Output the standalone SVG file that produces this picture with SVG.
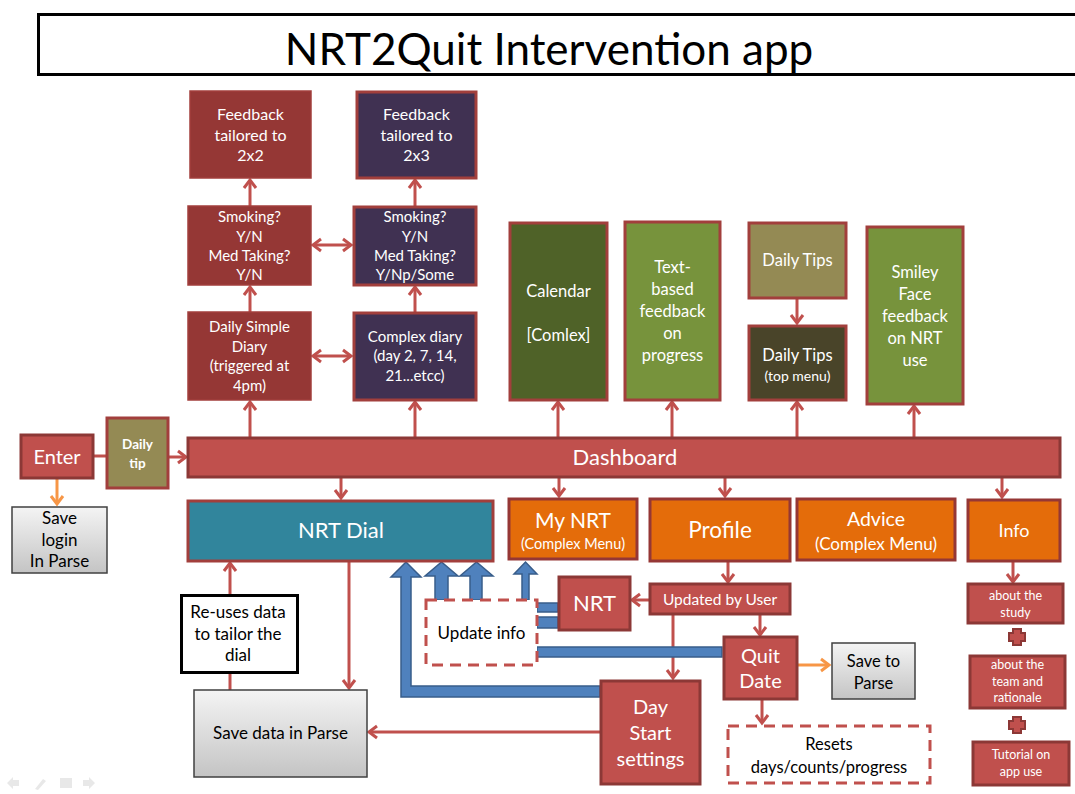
<svg xmlns="http://www.w3.org/2000/svg" width="1075" height="794" viewBox="0 0 1075 794">
  <style>
    text { font-family: Lato, "Open Sans", sans-serif; text-anchor: middle; fill: #ffffff; }
    .dk { fill: #000000; }
    .c { stroke: #c0504d; stroke-width: 3; fill: none; }
    .o { stroke: #f79646; stroke-width: 3; fill: none; }
    .red { fill: #c0504d; stroke: #8c3836; stroke-width: 3; }
    .maroon { fill: #953735; stroke: #a23f3c; stroke-width: 1.5; }
    .purple { fill: #403152; stroke: #a23f3c; stroke-width: 3; }
    .olive { fill: #4f6228; stroke: #a23f3c; stroke-width: 3; }
    .green { fill: #77933c; stroke: #a23f3c; stroke-width: 3; }
    .khaki { fill: #948a54; stroke: #a23f3c; stroke-width: 3; }
    .brown { fill: #494429; stroke: #a23f3c; stroke-width: 3; }
    .orange { fill: #e46c0a; stroke: #953735; stroke-width: 3; }
    .teal { fill: #31859c; stroke: #a23f3c; stroke-width: 3; }
    .gray { fill: url(#grayGrad); stroke: #404040; stroke-width: 1.5; }
    .dash { fill: #ffffff; stroke: #c0504d; stroke-width: 3; stroke-dasharray: 11 7; }
    .blue { fill: #4f81bd; stroke: #385d8a; stroke-width: 1.5; }
  </style>
  <defs>
    <linearGradient id="grayGrad" x1="0" y1="0" x2="0" y2="1">
      <stop offset="0" stop-color="#f4f4f4"/>
      <stop offset="1" stop-color="#c4c4c4"/>
    </linearGradient>
    <marker id="ar" markerUnits="userSpaceOnUse" markerWidth="14" markerHeight="16" viewBox="0 0 14 16" refX="10" refY="8" orient="auto-start-reverse">
      <path d="M2,2 L10,8 L2,14" fill="none" stroke="#c0504d" stroke-width="3"/>
    </marker>
    <marker id="ao" markerUnits="userSpaceOnUse" markerWidth="14" markerHeight="16" viewBox="0 0 14 16" refX="10" refY="8" orient="auto-start-reverse">
      <path d="M2,2 L10,8 L2,14" fill="none" stroke="#f79646" stroke-width="3"/>
    </marker>
  </defs>

  <rect width="1075" height="794" fill="#ffffff"/>

  <!-- title banner -->
  <g id="title">
    <rect x="38.5" y="14.5" width="1045" height="60" fill="#ffffff" stroke="#000000" stroke-width="3"/>
    <text class="dk" x="549" y="65" font-size="44">NRT2Quit Intervention app</text>
  </g>

  <!-- connectors -->
  <g id="connectors">
    <path class="c" d="M93,456 H106"/>
    <path class="c" d="M168,457 H186" marker-end="url(#ar)"/>
    <path class="c" d="M250,437 V402" marker-end="url(#ar)"/>
    <path class="c" d="M250,312 V287" marker-end="url(#ar)"/>
    <path class="c" d="M250,206 V180" marker-end="url(#ar)"/>
    <path class="c" d="M415,437 V402" marker-end="url(#ar)"/>
    <path class="c" d="M415,312 V287" marker-end="url(#ar)"/>
    <path class="c" d="M415,206 V180" marker-end="url(#ar)"/>
    <path class="c" d="M313,245 H351" marker-start="url(#ar)" marker-end="url(#ar)"/>
    <path class="c" d="M313,356 H351" marker-start="url(#ar)" marker-end="url(#ar)"/>
    <path class="c" d="M558,437 V402" marker-end="url(#ar)"/>
    <path class="c" d="M672,437 V402" marker-end="url(#ar)"/>
    <path class="c" d="M797,437 V402" marker-end="url(#ar)"/>
    <path class="c" d="M914,437 V406" marker-end="url(#ar)"/>
    <path class="c" d="M797,298 V323" marker-end="url(#ar)"/>
    <path class="c" d="M341,477 V498" marker-end="url(#ar)"/>
    <path class="c" d="M559,477 V496" marker-end="url(#ar)"/>
    <path class="c" d="M725,477 V496" marker-end="url(#ar)"/>
    <path class="c" d="M1002,477 V497" marker-end="url(#ar)"/>
    <path class="c" d="M728,561 V582" marker-end="url(#ar)"/>
    <path class="c" d="M649,600 H632" marker-end="url(#ar)"/>
    <path class="c" d="M673,614 V678" marker-end="url(#ar)"/>
    <path class="c" d="M760,614 V635" marker-end="url(#ar)"/>
    <path class="c" d="M762,699 V723" marker-end="url(#ar)"/>
    <path class="c" d="M600,732 H369" marker-end="url(#ar)"/>
    <path class="c" d="M349,561 V688" marker-end="url(#ar)"/>
    <path class="c" d="M230,690 V563" marker-end="url(#ar)"/>
    <path class="c" d="M1013,561 V582" marker-end="url(#ar)"/>
    <path class="o" d="M57,478 V504" marker-end="url(#ao)"/>
    <path class="o" d="M797,665 H829" marker-end="url(#ao)"/>

    <!-- block arrows feeding the dial and menus -->
    <path class="blue" d="M600,686 H411 V577 H421 L406,562 L391,577 H401 V697 H600 Z"/>
    <path class="blue" d="M435,600 V576 H425 L441.5,562 L458,576 H448 V600 Z"/>
    <path class="blue" d="M470,600 V576 H460 L476.5,562 L493,576 H482 V600 Z"/>
    <path class="blue" d="M522,600 V574 H514 L525.5,562 L537,574 H529 V600 Z"/>
    <rect class="blue" x="537" y="603" width="21" height="9"/>
    <rect class="blue" x="537" y="617" width="21" height="11"/>
    <rect class="blue" x="537" y="647" width="185" height="10"/>
  </g>

  <!-- diary branch -->
  <g id="feedback-2x2">
    <rect class="maroon" x="190" y="91" width="121" height="87"/>
    <text x="250.5" y="120" font-size="16">Feedback</text>
    <text x="250.5" y="141" font-size="16">tailored to</text>
    <text x="250.5" y="161" font-size="16">2x2</text>
  </g>
  <g id="feedback-2x3">
    <rect class="purple" x="357" y="92" width="119" height="86"/>
    <text x="416.5" y="120" font-size="16">Feedback</text>
    <text x="416.5" y="141" font-size="16">tailored to</text>
    <text x="416.5" y="161" font-size="16">2x3</text>
  </g>
  <g id="smoking-simple">
    <rect class="maroon" x="188" y="206" width="123" height="79"/>
    <text x="249.5" y="222" font-size="15">Smoking?</text>
    <text x="249.5" y="242" font-size="15">Y/N</text>
    <text x="249.5" y="261" font-size="15">Med Taking?</text>
    <text x="249.5" y="280" font-size="15">Y/N</text>
  </g>
  <g id="smoking-complex">
    <rect class="purple" x="354" y="207" width="122" height="78"/>
    <text x="415" y="222" font-size="15">Smoking?</text>
    <text x="415" y="242" font-size="15">Y/N</text>
    <text x="415" y="261" font-size="15">Med Taking?</text>
    <text x="415" y="280" font-size="15">Y/Np/Some</text>
  </g>
  <g id="daily-simple-diary">
    <rect class="maroon" x="188" y="312" width="123" height="88"/>
    <text x="249.5" y="332" font-size="15">Daily Simple</text>
    <text x="249.5" y="352" font-size="15">Diary</text>
    <text x="249.5" y="371" font-size="15">(triggered at</text>
    <text x="249.5" y="391" font-size="15">4pm)</text>
  </g>
  <g id="complex-diary">
    <rect class="purple" x="354" y="313" width="122" height="87"/>
    <text x="415" y="342" font-size="15">Complex diary</text>
    <text x="415" y="361" font-size="15">(day 2, 7, 14,</text>
    <text x="415" y="381" font-size="15">21...etcc)</text>
  </g>

  <!-- dashboard panels -->
  <g id="calendar">
    <rect class="olive" x="510" y="223" width="97" height="177"/>
    <text x="558.5" y="297" font-size="16.5">Calendar</text>
    <text x="558.5" y="341" font-size="16.5">[Comlex]</text>
  </g>
  <g id="text-feedback">
    <rect class="green" x="625" y="222" width="95" height="178"/>
    <text x="672.5" y="273" font-size="16.5">Text-</text>
    <text x="672.5" y="295" font-size="16.5">based</text>
    <text x="672.5" y="317" font-size="16.5">feedback</text>
    <text x="672.5" y="339" font-size="16.5">on</text>
    <text x="672.5" y="361" font-size="16.5">progress</text>
  </g>
  <g id="daily-tips">
    <rect class="khaki" x="749" y="223" width="97" height="75"/>
    <text x="797.5" y="266" font-size="16.5">Daily Tips</text>
  </g>
  <g id="daily-tips-menu">
    <rect class="brown" x="749" y="326" width="97" height="74"/>
    <text x="797.5" y="361" font-size="16.5">Daily Tips</text>
    <text x="797.5" y="381" font-size="14">(top menu)</text>
  </g>
  <g id="smiley-feedback">
    <rect class="green" x="867" y="227" width="96" height="177"/>
    <text x="915" y="278" font-size="16.5">Smiley</text>
    <text x="915" y="300" font-size="16.5">Face</text>
    <text x="915" y="322" font-size="16.5">feedback</text>
    <text x="915" y="344" font-size="16.5">on NRT</text>
    <text x="915" y="366" font-size="16.5">use</text>
  </g>

  <!-- entry row -->
  <g id="enter">
    <rect class="red" x="21" y="435" width="72" height="43"/>
    <text x="57" y="464" font-size="20">Enter</text>
  </g>
  <g id="daily-tip">
    <rect class="khaki" x="107" y="418" width="61" height="70"/>
    <text x="137.5" y="449" font-size="13.5" font-weight="bold">Daily</text>
    <text x="137.5" y="468" font-size="13.5" font-weight="bold">tip</text>
  </g>
  <g id="dashboard">
    <rect class="red" x="188" y="438" width="872" height="39"/>
    <text x="625" y="465" font-size="22">Dashboard</text>
  </g>
  <g id="save-login">
    <rect class="gray" x="12" y="507" width="95" height="66"/>
    <text class="dk" x="59.5" y="524" font-size="17">Save</text>
    <text class="dk" x="59.5" y="546" font-size="17">login</text>
    <text class="dk" x="59.5" y="567" font-size="17">In Parse</text>
  </g>

  <!-- main menu -->
  <g id="nrt-dial">
    <rect class="teal" x="188" y="501" width="305" height="60"/>
    <text x="341" y="538" font-size="22">NRT Dial</text>
  </g>
  <g id="my-nrt">
    <rect class="orange" x="509" y="499" width="128" height="60"/>
    <text x="573" y="528" font-size="21">My NRT</text>
    <text x="573" y="549" font-size="14.5">(Complex Menu)</text>
  </g>
  <g id="profile">
    <rect class="orange" x="650" y="499" width="140" height="62"/>
    <text x="720" y="538" font-size="22.5">Profile</text>
  </g>
  <g id="advice">
    <rect class="orange" x="797" y="499" width="158" height="61"/>
    <text x="876" y="526" font-size="19.5">Advice</text>
    <text x="876" y="550" font-size="17">(Complex Menu)</text>
  </g>
  <g id="info">
    <rect class="orange" x="968" y="500" width="92" height="61"/>
    <text x="1014" y="537" font-size="18">Info</text>
  </g>

  <!-- info pages -->
  <g id="about-study">
    <rect class="red" x="968" y="584" width="95" height="39"/>
    <text x="1015.5" y="600" font-size="12.5">about the</text>
    <text x="1015.5" y="617" font-size="12.5">study</text>
  </g>
  <g id="plus-1">
    <path d="M1013,629 H1021 V633 H1025 V641 H1021 V645 H1013 V641 H1009 V633 H1013 Z" fill="#c0504d" stroke="#8c3836" stroke-width="2"/>
  </g>
  <g id="about-team">
    <rect class="red" x="970" y="656" width="95" height="52"/>
    <text x="1017.5" y="669" font-size="12.5">about the</text>
    <text x="1017.5" y="686" font-size="12.5">team and</text>
    <text x="1017.5" y="702" font-size="12.5">rationale</text>
  </g>
  <g id="plus-2">
    <path d="M1013,717 H1021 V721 H1025 V729 H1021 V733 H1013 V729 H1009 V721 H1013 Z" fill="#c0504d" stroke="#8c3836" stroke-width="2"/>
  </g>
  <g id="tutorial">
    <rect class="red" x="973" y="742" width="96" height="43"/>
    <text x="1021" y="759" font-size="12.5">Tutorial on</text>
    <text x="1021" y="776" font-size="12.5">app use</text>
  </g>

  <!-- data handling -->
  <g id="reuses-data">
    <rect x="181.5" y="595.5" width="116" height="77" fill="#ffffff" stroke="#000000" stroke-width="3"/>
    <text class="dk" x="238" y="618" font-size="17">Re-uses data</text>
    <text class="dk" x="238" y="640" font-size="17">to tailor the</text>
    <text class="dk" x="238" y="661" font-size="17">dial</text>
  </g>
  <g id="save-data">
    <rect class="gray" x="194" y="690" width="173" height="87"/>
    <text class="dk" x="280.5" y="739" font-size="17">Save data in Parse</text>
  </g>
  <g id="update-info">
    <rect class="dash" x="426" y="600" width="111" height="65"/>
    <text class="dk" x="481.5" y="639" font-size="17">Update info</text>
  </g>
  <g id="nrt">
    <rect class="red" x="559" y="577" width="71" height="53"/>
    <text x="594.5" y="611" font-size="22">NRT</text>
  </g>
  <g id="updated-by-user">
    <rect class="red" x="650" y="584" width="140" height="30"/>
    <text x="720" y="605" font-size="15.5">Updated by User</text>
  </g>
  <g id="quit-date">
    <rect class="red" x="724" y="637" width="73" height="62"/>
    <text x="760.5" y="663" font-size="20">Quit</text>
    <text x="760.5" y="688" font-size="20">Date</text>
  </g>
  <g id="save-to-parse">
    <rect class="gray" x="832" y="643" width="83" height="56"/>
    <text class="dk" x="873.5" y="667" font-size="16.5">Save to</text>
    <text class="dk" x="873.5" y="689" font-size="16.5">Parse</text>
  </g>
  <g id="day-start">
    <rect class="red" x="601" y="681" width="99" height="103"/>
    <text x="650.5" y="714" font-size="20">Day</text>
    <text x="650.5" y="740" font-size="20">Start</text>
    <text x="650.5" y="766" font-size="20">settings</text>
  </g>
  <g id="resets">
    <rect class="dash" x="728" y="726" width="202" height="57"/>
    <text class="dk" x="829" y="750" font-size="16.5">Resets</text>
    <text class="dk" x="829" y="773" font-size="16.5">days/counts/progress</text>
  </g>

  <!-- slide navigation glyphs -->
  <g id="nav" fill="#e8e8e8">
    <path d="M7,783 L13,777 V780 H19 V786 H13 V789 Z"/>
    <path d="M35,789 L43,779 L46,781 L38,790 Z"/>
    <rect x="60" y="778" width="12" height="10"/>
    <path d="M95,783 L89,777 V780 H83 V786 H89 V789 Z"/>
  </g>
</svg>
